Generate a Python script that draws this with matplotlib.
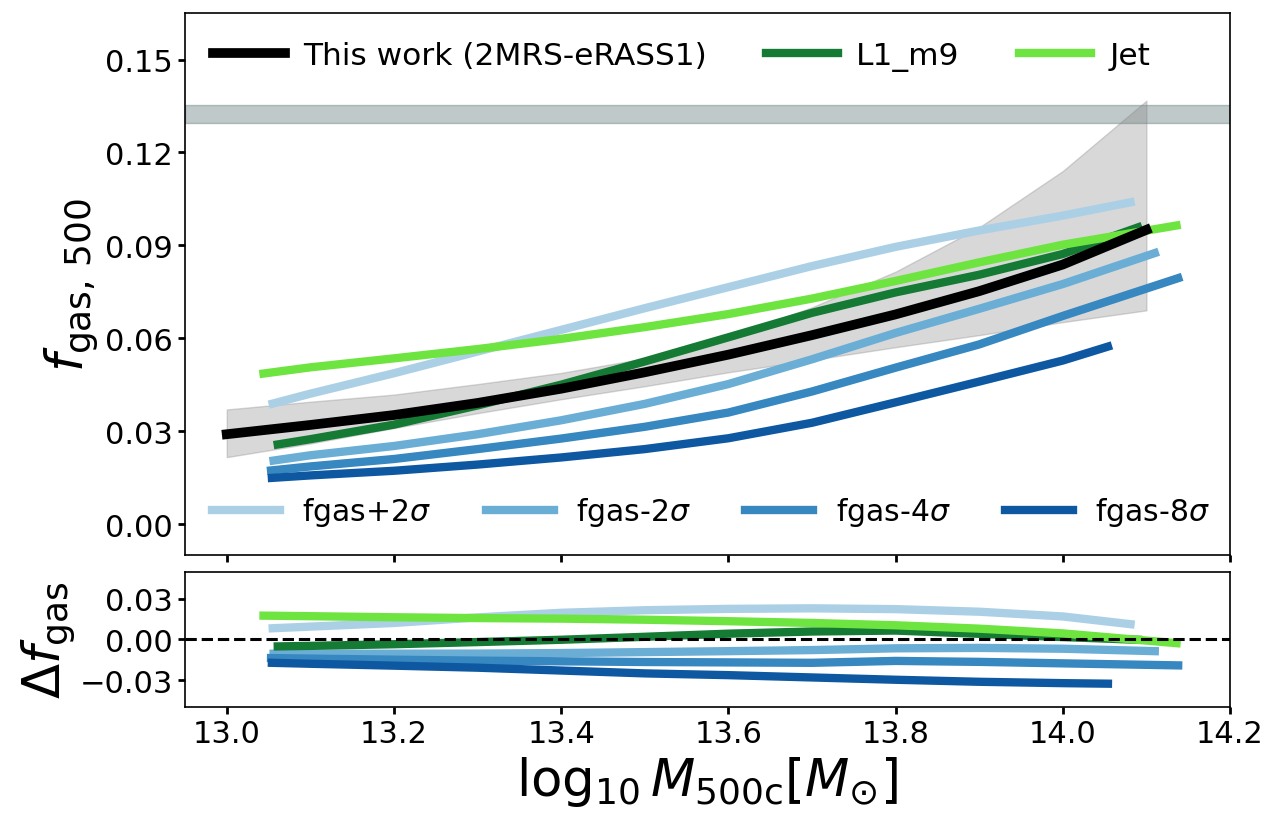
import numpy as np
import matplotlib
matplotlib.use('Agg')
import matplotlib.pyplot as plt

# ── data ────────────────────────────────────────────────────────────────────
# this work (2MRS-eRASS1): median and shaded range
x_obs = [13.0, 13.1, 13.2, 13.3, 13.4, 13.5, 13.6, 13.7, 13.8, 13.9, 14.0, 14.1]
f_obs = [0.029, 0.032, 0.0352, 0.0391, 0.0437, 0.049, 0.0547, 0.061, 0.0677, 0.0752, 0.0838, 0.095]
f_obs_lo = [0.0216, 0.026, 0.031, 0.0358, 0.0403, 0.0445, 0.049, 0.053, 0.0571, 0.061, 0.0652, 0.069]
f_obs_hi = [0.037, 0.0395, 0.0418, 0.0452, 0.0488, 0.0535, 0.0605, 0.070, 0.0815, 0.0958, 0.1140, 0.1367]

# cosmic baryon fraction band
fb_lo, fb_hi = 0.1295, 0.1352

# simulations (main panel)
x_l1 = [13.061, 13.1, 13.2, 13.3, 13.4, 13.5, 13.6, 13.7, 13.8, 13.9, 14.0, 14.09]
f_l1 = [0.0257, 0.0274, 0.0321, 0.0383, 0.0450, 0.0525, 0.0603, 0.0682, 0.0748, 0.0805, 0.0872, 0.0958]

x_jet = [13.044, 13.1, 13.2, 13.3, 13.4, 13.5, 13.6, 13.7, 13.8, 13.9, 14.0, 14.136]
f_jet = [0.0486, 0.0506, 0.0535, 0.0565, 0.0598, 0.0636, 0.0678, 0.0728, 0.0785, 0.0845, 0.0902, 0.0964]

x_p2 = [13.055, 13.1, 13.2, 13.3, 13.4, 13.5, 13.6, 13.7, 13.8, 13.9, 14.0, 14.081]
f_p2 = [0.0389, 0.0421, 0.0487, 0.0557, 0.0627, 0.0697, 0.0765, 0.0833, 0.0895, 0.0948, 0.0996, 0.1039]

x_m2 = [13.056, 13.1, 13.2, 13.3, 13.4, 13.5, 13.6, 13.7, 13.8, 13.9, 14.0, 14.11]
f_m2 = [0.0205, 0.0222, 0.0252, 0.0290, 0.0335, 0.0388, 0.0452, 0.0532, 0.0617, 0.0695, 0.0775, 0.0875]

x_m4 = [13.053, 13.1, 13.2, 13.3, 13.4, 13.5, 13.6, 13.7, 13.8, 13.9, 14.0, 14.138]
f_m4 = [0.0173, 0.0186, 0.0210, 0.0242, 0.0276, 0.0314, 0.0360, 0.0428, 0.0505, 0.0580, 0.0672, 0.0794]

x_m8 = [13.054, 13.1, 13.2, 13.3, 13.4, 13.5, 13.6, 13.7, 13.8, 13.9, 14.0, 14.054]
f_m8 = [0.0149, 0.0157, 0.0172, 0.0192, 0.0215, 0.0242, 0.0277, 0.0327, 0.0393, 0.0460, 0.0528, 0.0573]

# residuals (lower panel), same x grids
d_l1 = [-0.0051, -0.0047, -0.0035, -0.0019, -0.0002, 0.0020, 0.0043, 0.0059, 0.0066, 0.0042, 0.0018, -0.0002]
d_jet = [0.0176, 0.0172, 0.0164, 0.0158, 0.0154, 0.0146, 0.0135, 0.0122, 0.0105, 0.0080, 0.0045, -0.0027]
d_p2 = [0.0083, 0.0095, 0.0122, 0.0163, 0.0197, 0.0216, 0.0226, 0.0230, 0.0224, 0.0205, 0.0170, 0.0113]
d_m2 = [-0.0105, -0.0105, -0.0105, -0.0104, -0.0100, -0.0093, -0.0086, -0.0078, -0.0065, -0.0062, -0.0068, -0.0086]
d_m4 = [-0.0137, -0.0141, -0.0149, -0.0156, -0.0161, -0.0166, -0.0169, -0.0172, -0.0158, -0.0165, -0.0176, -0.0191]
d_m8 = [-0.0172, -0.0179, -0.0193, -0.0208, -0.0229, -0.0250, -0.0263, -0.0280, -0.0297, -0.0312, -0.0322, -0.0326]

# ── styles ────────────────────────────────────────────────────────────────
c_obs = 'black'
c_l1 = '#157a34'
c_jet = '#6ee440'
blues = ['#abd0e6', '#6aaed6', '#3787c0', '#0e58a2']
blue_labels = [r'fgas+2$\sigma$', r'fgas-2$\sigma$', r'fgas-4$\sigma$', r'fgas-8$\sigma$']
LW = 6

fig = plt.figure(figsize=(12.79, 8.28), dpi=100)
ax = fig.add_axes([0.1446, 0.3285, 0.8171, 0.6545])
axr = fig.add_axes([0.1446, 0.1446, 0.8171, 0.1637])

# ── main panel ────────────────────────────────────────────────────────────
ax.axhspan(fb_lo, fb_hi, color='darkslategray', alpha=0.3)
ax.fill_between(x_obs, f_obs_lo, f_obs_hi, color='gray', alpha=0.3)

blue_handles = []
for xs, ys, c, lab in zip([x_p2, x_m2, x_m4, x_m8], [f_p2, f_m2, f_m4, f_m8], blues, blue_labels):
    h, = ax.plot(xs, ys, color=c, lw=LW, label=lab)
    blue_handles.append(h)

h_l1, = ax.plot(x_l1, f_l1, color=c_l1, lw=LW, label='L1_m9')
h_jet, = ax.plot(x_jet, f_jet, color=c_jet, lw=LW, label='Jet')
h_obs, = ax.plot(x_obs, f_obs, color=c_obs, lw=7, label='This work (2MRS-eRASS1)')

leg1 = ax.legend(handles=[h_obs, h_l1, h_jet], loc='upper left', ncol=3, frameon=False,
                 fontsize=22.5, handlelength=2.3, handletextpad=0.58, columnspacing=1.9)
ax.add_artist(leg1)
ax.legend(handles=blue_handles, loc='lower left', ncol=4, frameon=False,
          fontsize=21.5, handlelength=2.28, handletextpad=0.74, columnspacing=1.83)

ax.set_xlim(12.95, 14.2)
ax.set_ylim(-0.01, 0.165)
ax.set_xticks(np.arange(13.0, 14.21, 0.2))
ax.set_xticklabels([])
ax.set_yticks([0.0, 0.03, 0.06, 0.09, 0.12, 0.15])
ax.set_yticklabels(['0.00', '0.03', '0.06', '0.09', '0.12', '0.15'])
ax.set_ylabel(r'$f_{\rm gas,\,500}$', fontsize=37)

# ── residual panel ────────────────────────────────────────────────────────
for xs, ds, c in zip([x_p2, x_m2, x_m4, x_m8], [d_p2, d_m2, d_m4, d_m8], blues):
    axr.plot(xs, ds, color=c, lw=LW)
axr.plot(x_l1, d_l1, color=c_l1, lw=LW)
axr.plot(x_jet, d_jet, color=c_jet, lw=LW)
axr.axhline(0, color='black', ls='--', lw=2.2)

axr.set_xlim(12.95, 14.2)
axr.set_ylim(-0.05, 0.05)
axr.set_xticks(np.arange(13.0, 14.21, 0.2))
axr.set_xticklabels(['13.0', '13.2', '13.4', '13.6', '13.8', '14.0', '14.2'])
axr.set_yticks([-0.03, 0.0, 0.03])
axr.set_yticklabels(['\u22120.03', '0.00', '0.03'])
axr.set_ylabel(r'$\Delta f_{\rm gas}$', fontsize=37, labelpad=2)
axr.set_xlabel(r'$\log_{10} M_{500\mathrm{c}}[M_{\odot}]$', fontsize=37)

for a in (ax, axr):
    a.tick_params(labelsize=22, length=5, width=2)
    for s in a.spines.values():
        s.set_linewidth(1.2)

fig.savefig('out.png', dpi=100)
